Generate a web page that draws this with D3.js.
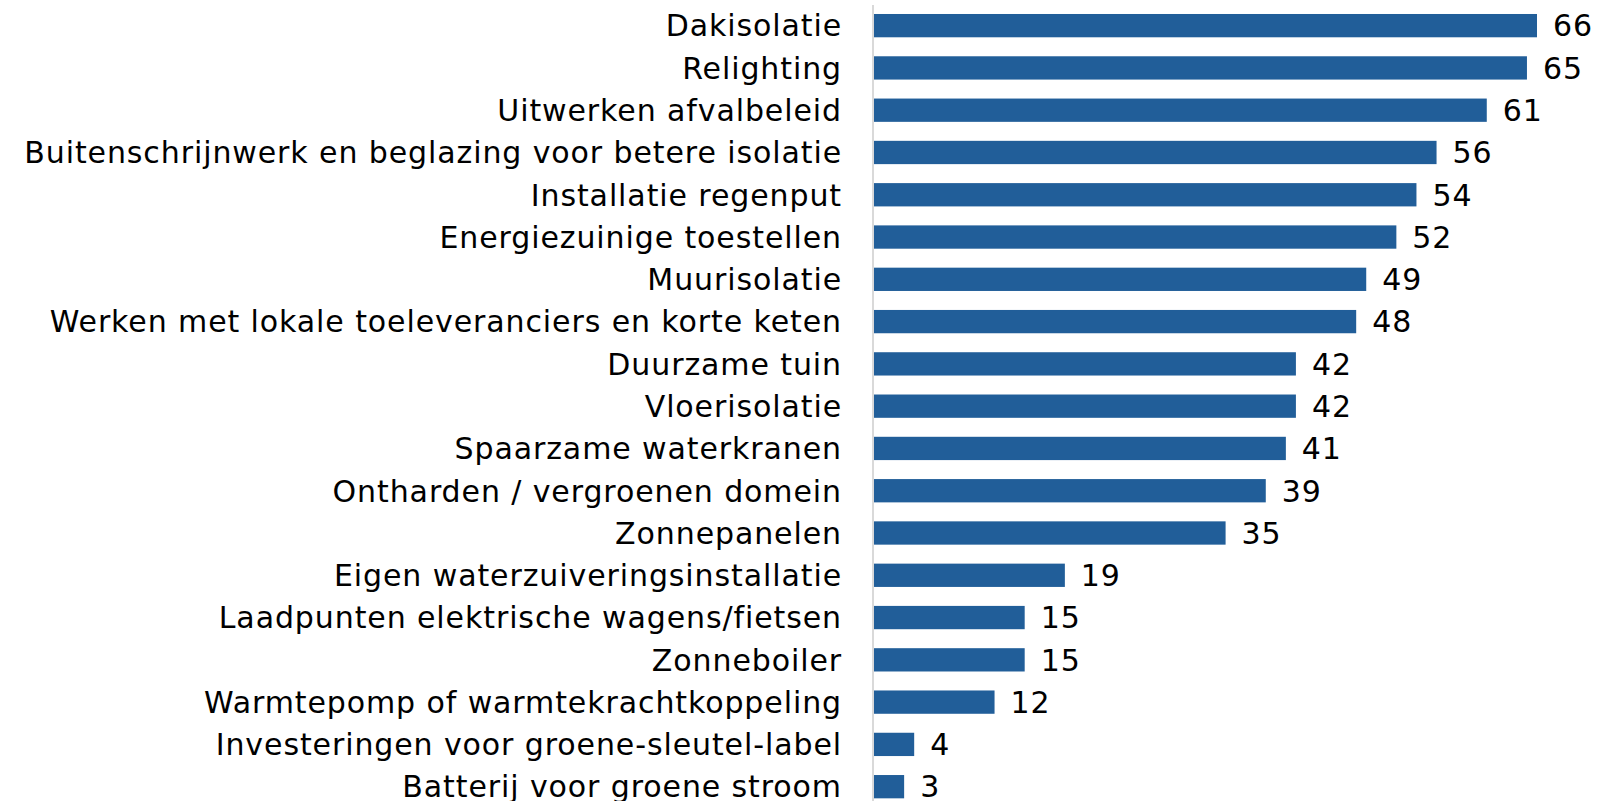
<!DOCTYPE html>
<html>
<head>
<meta charset="utf-8">
<script src="https://cdn.jsdelivr.net/npm/d3@7"></script>
<style>
  body { margin: 0; background: #fff; }
  svg text { font-family: "DejaVu Sans", Verdana, sans-serif; fill: #000; }
</style>
</head>
<body>
<div id="chart"></div>
<script>
var categories = [
  "Dakisolatie",
  "Relighting",
  "Uitwerken afvalbeleid",
  "Buitenschrijnwerk en beglazing voor betere isolatie",
  "Installatie regenput",
  "Energiezuinige toestellen",
  "Muurisolatie",
  "Werken met lokale toeleveranciers en korte keten",
  "Duurzame tuin",
  "Vloerisolatie",
  "Spaarzame waterkranen",
  "Ontharden / vergroenen domein",
  "Zonnepanelen",
  "Eigen waterzuiveringsinstallatie",
  "Laadpunten elektrische wagens/fietsen",
  "Zonneboiler",
  "Warmtepomp of warmtekrachtkoppeling",
  "Investeringen voor groene-sleutel-label",
  "Batterij voor groene stroom"
];
var values = [66, 65, 61, 56, 54, 52, 49, 48, 42, 42, 41, 39, 35, 19, 15, 15, 12, 4, 3];

var width = 1599, height = 801;
var x0 = 874;

var svg = d3.select("#chart").append("svg")
  .attr("width", width)
  .attr("height", height);

var x = d3.scaleLinear()
  .domain([0, 66])
  .range([x0, x0 + 663]);

var y = d3.scaleBand()
  .domain(categories)
  .range([4.5, 4.5 + 19 * 42.28])
  .paddingInner(0.449)
  .paddingOuter(0.2245);

// bars
svg.selectAll("rect.bar")
  .data(values)
  .enter().append("rect")
    .attr("class", "bar")
    .attr("x", x(0))
    .attr("y", function(d, i) { return y(categories[i]); })
    .attr("width", function(d) { return x(d) - x(0); })
    .attr("height", y.bandwidth())
    .attr("fill", "#215e99");

// axis line
svg.append("line")
  .attr("x1", x0 - 1).attr("x2", x0 - 1)
  .attr("y1", 5).attr("y2", height)
  .attr("stroke", "#d9d9d9")
  .attr("stroke-width", 2);

// category labels
svg.selectAll("text.cat")
  .data(categories)
  .enter().append("text")
    .attr("class", "cat")
    .attr("x", 842)
    .attr("y", function(d) { return y(d) + y.bandwidth() / 2; })
    .attr("dy", "0.36em")
    .attr("text-anchor", "end")
    .style("font-size", "30px")
    .style("letter-spacing", "0.9px")
    .text(function(d) { return d; });

// value labels
svg.selectAll("text.val")
  .data(values)
  .enter().append("text")
    .attr("class", "val")
    .attr("x", function(d) { return x(d) + 16; })
    .attr("y", function(d, i) { return y(categories[i]) + y.bandwidth() / 2; })
    .attr("dy", "0.36em")
    .style("font-size", "30px")
    .style("letter-spacing", "0.9px")
    .text(function(d) { return d; });
</script>
</body>
</html>
